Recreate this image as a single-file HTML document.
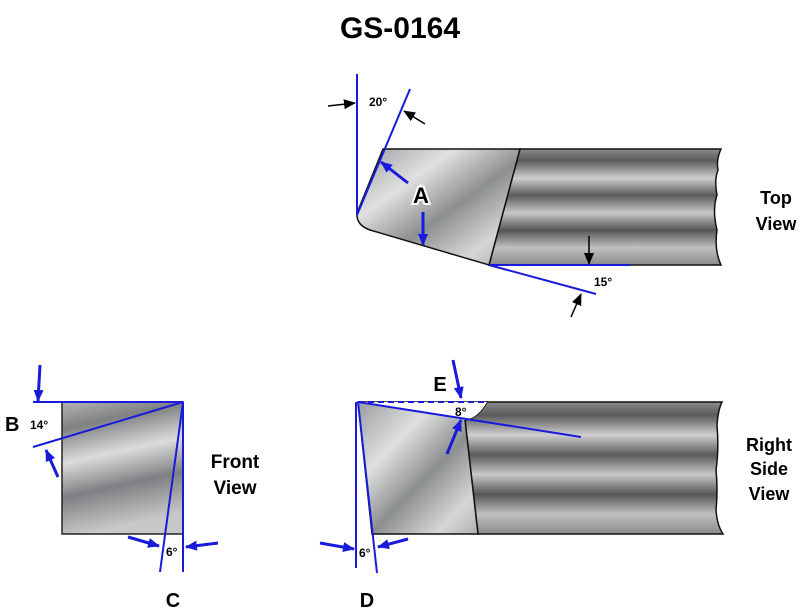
<!DOCTYPE html>
<html><head><style>body{margin:0;background:#fff}svg{display:block}text{font-family:"Liberation Sans",sans-serif;font-weight:bold}</style></head><body>
<svg width="800" height="614" viewBox="0 0 800 614" xmlns="http://www.w3.org/2000/svg">
<defs>
<linearGradient id="fl" x1="0" y1="0" x2="0" y2="1" gradientUnits="objectBoundingBox">
<stop offset="0" stop-color="#8a8a8c"/><stop offset="0.1" stop-color="#5a5a5c"/><stop offset="0.25" stop-color="#cfcfd0"/><stop offset="0.4" stop-color="#5a5a5c"/><stop offset="0.55" stop-color="#c8c8c9"/><stop offset="0.7" stop-color="#555557"/><stop offset="0.85" stop-color="#c0c0c1"/><stop offset="1" stop-color="#8a8a8c"/>
</linearGradient>
<linearGradient id="gr" x1="0" y1="0" x2="1" y2="1">
<stop offset="0" stop-color="#9a9c9e"/><stop offset="0.3" stop-color="#e0e0e0"/><stop offset="0.55" stop-color="#8c8f90"/><stop offset="0.8" stop-color="#d6d6d6"/><stop offset="1" stop-color="#a8a8a8"/>
</linearGradient>
<linearGradient id="gf" x1="0" y1="0" x2="0.2" y2="1">
<stop offset="0" stop-color="#b4b4b6"/><stop offset="0.2" stop-color="#7f8183"/><stop offset="0.45" stop-color="#dcdcdc"/><stop offset="0.7" stop-color="#7d8082"/><stop offset="1" stop-color="#c8c8c8"/>
</linearGradient>
<marker id="ab" markerWidth="12" markerHeight="10" refX="11" refY="5" orient="auto" markerUnits="userSpaceOnUse"><path d="M0,0 L12,5 L0,10z" fill="#1a1adb"/></marker>
<marker id="ak" markerWidth="12" markerHeight="10" refX="11" refY="5" orient="auto" markerUnits="userSpaceOnUse"><path d="M0,0 L12,5 L0,10z" fill="#000"/></marker>
</defs>
<text x="400" y="38" font-size="30" text-anchor="middle">GS-0164</text>

<!-- Top view -->
<path d="M520,149 L721,149 Q716,160 718,170 Q714,180 717,195 Q712,210 717,230 Q714,250 721,265 L489,265 Z" fill="url(#fl)" stroke="#111" stroke-width="1.5"/>
<path d="M383,149 L520,149 L489,265 L370,230 Q356,225 357,213 Z" fill="url(#gr)" stroke="#111" stroke-width="1.5"/>
<g stroke="#1a1adb" stroke-width="2" fill="none">
<line x1="357" y1="74" x2="357" y2="215"/>
<line x1="410" y1="89" x2="357" y2="215"/>
<line x1="489" y1="265" x2="630" y2="265"/>
<line x1="489" y1="265" x2="596" y2="294"/>
<line x1="408" y1="183" x2="381" y2="162" marker-end="url(#ab)" stroke-width="3"/>
<line x1="423" y1="212" x2="423" y2="245" marker-end="url(#ab)" stroke-width="3"/>
</g>
<g stroke="#000" stroke-width="1.5">
<line x1="328" y1="106" x2="355" y2="103" marker-end="url(#ak)"/>
<line x1="425" y1="124" x2="404" y2="111" marker-end="url(#ak)"/>
<line x1="589" y1="236" x2="589" y2="264" marker-end="url(#ak)"/>
<line x1="571" y1="317" x2="581" y2="294" marker-end="url(#ak)"/>
</g>
<text x="369" y="106" font-size="12">20°</text>
<text x="594" y="286" font-size="12">15°</text>
<text x="421" y="203" font-size="22" text-anchor="middle" stroke="#fff" stroke-width="4" paint-order="stroke">A</text>
<text x="776" y="204" font-size="18" text-anchor="middle">Top</text>
<text x="776" y="230" font-size="18" text-anchor="middle">View</text>

<!-- Front view -->
<rect x="62" y="402" width="121" height="132" fill="url(#gf)" stroke="#222" stroke-width="1.5"/>
<g stroke="#1a1adb" stroke-width="2" fill="none">
<line x1="33" y1="402" x2="183" y2="402"/>
<line x1="183" y1="402" x2="33" y2="447"/>
<line x1="183" y1="402" x2="183" y2="572"/>
<line x1="183" y1="402" x2="160" y2="572"/>
<line x1="40" y1="365" x2="38" y2="401" marker-end="url(#ab)" stroke-width="3"/>
<line x1="58" y1="477" x2="46" y2="450" marker-end="url(#ab)" stroke-width="3"/>
<line x1="128" y1="537" x2="159" y2="546" marker-end="url(#ab)" stroke-width="3"/>
<line x1="218" y1="543" x2="186" y2="547" marker-end="url(#ab)" stroke-width="3"/>
</g>
<text x="5" y="431" font-size="20">B</text>
<text x="30" y="429" font-size="12">14°</text>
<text x="166" y="556" font-size="12">6°</text>
<text x="173" y="607" font-size="20" text-anchor="middle">C</text>
<text x="235" y="468" font-size="19" text-anchor="middle">Front</text>
<text x="235" y="494" font-size="19" text-anchor="middle">View</text>

<!-- Right side view -->
<path d="M487,402 L722,402 Q718,410 717,425 Q719,450 716,470 Q718,490 716,510 Q717,525 723,534 L478,534 L465,420 Q478,418 487,402 Z" fill="url(#fl)" stroke="#111" stroke-width="1.5"/>
<path d="M358,402 L487,402 Q478,418 465,420 L478,534 L372,534 Z" fill="url(#gr)" stroke="#111" stroke-width="1.5"/>
<path d="M358,402 L487,402 Q478,418 465,420 Z" fill="#fff"/>
<g stroke="#1a1adb" stroke-width="2" fill="none">
<line x1="358" y1="402" x2="488" y2="402" stroke-dasharray="6,4"/>
<line x1="358" y1="402" x2="581" y2="437"/>
<line x1="356" y1="402" x2="356" y2="568"/>
<line x1="358" y1="402" x2="377" y2="573"/>
<line x1="453" y1="360" x2="461" y2="398" marker-end="url(#ab)" stroke-width="3"/>
<line x1="447" y1="454" x2="461" y2="420" marker-end="url(#ab)" stroke-width="3"/>
<line x1="320" y1="543" x2="354" y2="549" marker-end="url(#ab)" stroke-width="3"/>
<line x1="408" y1="539" x2="378" y2="547" marker-end="url(#ab)" stroke-width="3"/>
</g>
<text x="455" y="416" font-size="12">8°</text>
<text x="359" y="557" font-size="12">6°</text>
<text x="440" y="391" font-size="20" text-anchor="middle">E</text>
<text x="367" y="607" font-size="20" text-anchor="middle">D</text>
<text x="769" y="451" font-size="18" text-anchor="middle">Right</text>
<text x="769" y="475" font-size="18" text-anchor="middle">Side</text>
<text x="769" y="500" font-size="18" text-anchor="middle">View</text>
</svg>
</body></html>
